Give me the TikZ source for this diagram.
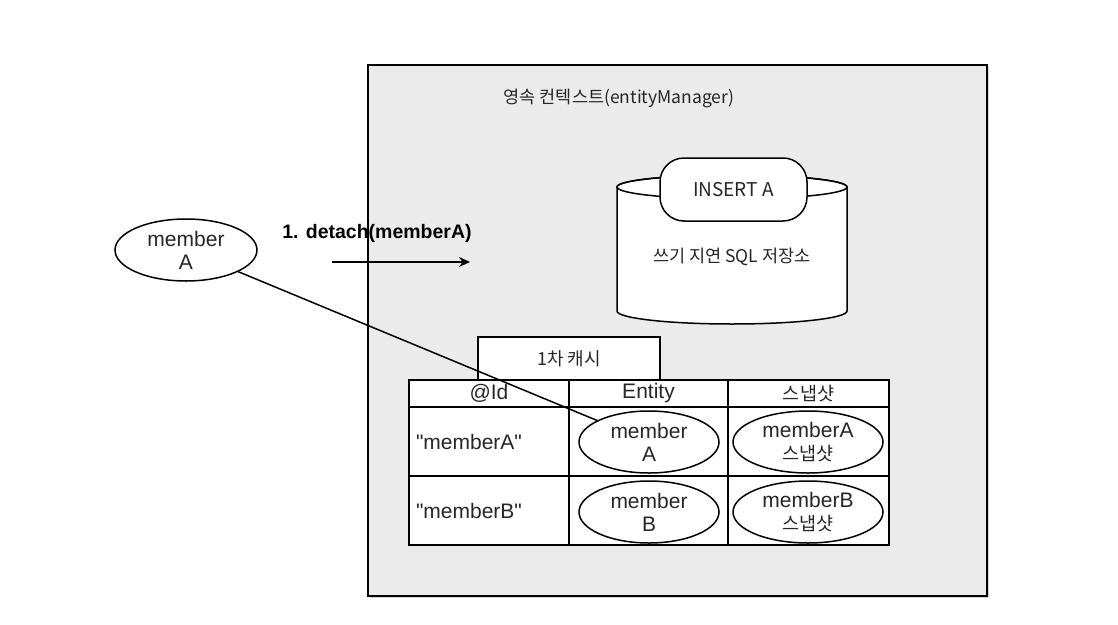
\documentclass[tikz,border=0pt]{standalone}
\usepackage{fontspec}
\setmainfont{Liberation Sans}
\newfontfamily\kr{Noto Sans CJK KR}
\usetikzlibrary{positioning, calc, fit, shapes.geometric, shadows, arrows.meta}

\begin{document}
\begin{tikzpicture}[x=1pt, y=-1pt,
    every node/.style={inner sep=0pt, text=black!85},
    obj/.style={ellipse, draw, line width=1.5pt, fill=white, minimum height=62pt, align=center, font=\fontsize{21}{23}\selectfont},
    cell/.style={rectangle, draw, line width=1.5pt, fill=white, font=\fontsize{21}{24}\selectfont},
    ko/.style={font=\kr\fontsize{#1}{#1}\selectfont}]
    \useasboundingbox (0,0) rectangle (1118,624);
    % Persistence context
    \node[draw, line width=2pt, fill=black!8, minimum width=619pt, minimum height=531pt,
        drop shadow={opacity=0.35, shadow xshift=1.5pt, shadow yshift=-2pt}] (ctx) at (677.5,330) {};
    \node[ko=17.5] (title) at (619,98) {영속 컨텍스트(entityManager)};
    % Write-behind SQL store
    \draw[line width=1.5pt, fill=white] (617,187) -- (617,311)
        arc[start angle=180, end angle=360, x radius=115pt, y radius=13pt] -- (847,187)
        arc[start angle=0, end angle=180, x radius=115pt, y radius=12pt] -- cycle;
    \draw[line width=1.5pt] (732,187) ellipse[x radius=115pt, y radius=12pt];
    \node[draw, line width=1.5pt, fill=white, rounded corners=24pt, minimum width=147pt, minimum height=63pt, ko=19] (ins) at (733.5,189.5) {INSERT A};
    \node[ko=17.5] (sql) at (732,257) {쓰기 지연 SQL 저장소};
    % First level cache
    \node[cell, minimum width=182pt, minimum height=43pt, ko=18] (cache) at (569,358.5) {1차 캐시};
    \node[cell, minimum width=160pt, minimum height=27pt] (hId) at (489,393.5) {@Id};
    \node[cell, minimum width=159pt, minimum height=27pt] (hEnt) at (648.5,393.5) {Entity};
    \node[cell, minimum width=161pt, minimum height=27pt, ko=18.5] (hSnap) at (808.5,393.5) {스냅샷};
    \node[cell, minimum height=69pt, text width=146pt, inner xsep=7pt, align=left] (idA) at (489,441.5) {\textquotedbl memberA\textquotedbl};
    \node[cell, minimum width=159pt, minimum height=69pt] (entA) at (648.5,441.5) {};
    \node[cell, minimum width=161pt, minimum height=69pt] (snapA) at (808.5,441.5) {};
    \node[cell, minimum height=69pt, text width=146pt, inner xsep=7pt, align=left] (idB) at (489,510.5) {\textquotedbl memberB\textquotedbl};
    \node[cell, minimum width=159pt, minimum height=69pt] (entB) at (648.5,510.5) {};
    \node[cell, minimum width=161pt, minimum height=69pt] (snapB) at (808.5,510.5) {};
    % Entities and snapshots
    \node[obj, minimum width=140pt] (mA) at (649,442) {member\\A};
    \node[obj, minimum width=140pt] (mB) at (649,512) {member\\B};
    \node[obj, minimum width=150pt] (sA) at (808,442) {memberA\\{\kr\fontsize{18.5}{20}\selectfont 스냅샷}};
    \node[obj, minimum width=150pt] (sB) at (808,512) {memberB\\{\kr\fontsize{18.5}{20}\selectfont 스냅샷}};
    % Detached member
    \node[obj, minimum width=142pt] (dA) at (186,250) {member\\A};
    \draw[line width=1.5pt] (dA) -- (mA);
    \node[font=\bfseries\fontsize{19.5}{22}\selectfont, text=black] (call) at (377,233) {1. detach(memberA)};
    \coordinate (c1) at (332,262);
    \coordinate (c2) at (470,262);
    \draw[line width=1.5pt, -{Stealth[length=11pt, width=10pt]}] (c1) -- (c2);
\end{tikzpicture}
\end{document}
